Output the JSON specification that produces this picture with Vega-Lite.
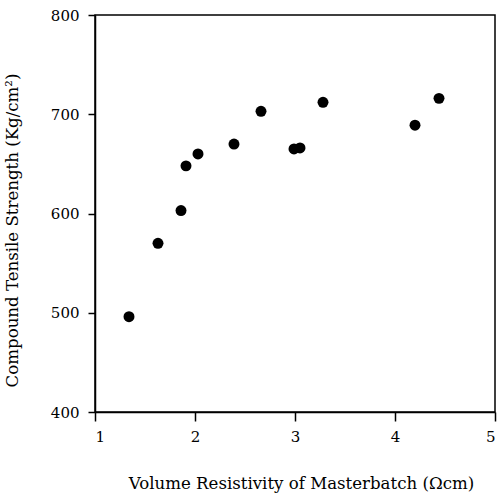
{
  "$schema": "https://vega.github.io/schema/vega-lite/v6.json",
  "width": 400,
  "height": 397,
  "autosize": "none",
  "padding": {"left": 95, "top": 15, "right": 4, "bottom": 84},
  "background": "white",
  "config": {
    "view": {"stroke": "black", "strokeWidth": 1.5},
    "font": "DejaVu Serif",
    "axis": {
      "grid": false,
      "domainColor": "black",
      "domainWidth": 1.5,
      "tickColor": "black",
      "tickWidth": 1.5,
      "labelColor": "black",
      "titleColor": "black",
      "labelFont": "DejaVu Serif",
      "titleFont": "DejaVu Serif",
      "labelFontSize": 15,
      "titleFontSize": 16.6,
      "titleFontWeight": "normal"
    }
  },
  "data": {
    "values": [
      {"r": 1.34, "s": 496},
      {"r": 1.63, "s": 570},
      {"r": 1.86, "s": 603},
      {"r": 1.91, "s": 648},
      {"r": 2.03, "s": 660},
      {"r": 2.39, "s": 670},
      {"r": 2.66, "s": 703},
      {"r": 2.99, "s": 665},
      {"r": 3.05, "s": 666},
      {"r": 3.28, "s": 712},
      {"r": 4.2, "s": 689},
      {"r": 4.44, "s": 716}
    ]
  },
  "mark": {"type": "point", "filled": true, "color": "black", "opacity": 1, "size": 120},
  "encoding": {
    "x": {
      "field": "r",
      "type": "quantitative",
      "scale": {"domain": [1, 5], "nice": false, "zero": false},
      "axis": {
        "title": "Volume Resistivity of Masterbatch (Ωcm)",
        "values": [1, 2, 3, 4, 5],
        "format": "d",
        "tickSize": 9,
        "labelPadding": 8,
        "titleX": 206,
        "titleY": 76,
        "titleBaseline": "alphabetic"
      }
    },
    "y": {
      "field": "s",
      "type": "quantitative",
      "scale": {"domain": [400, 800], "nice": false, "zero": false},
      "axis": {
        "title": "Compound Tensile Strength (Kg/cm²)",
        "values": [400, 500, 600, 700, 800],
        "tickSize": 7,
        "labelPadding": 9,
        "titleX": -78,
        "titleY": 215,
        "titleBaseline": "alphabetic"
      }
    }
  }
}
